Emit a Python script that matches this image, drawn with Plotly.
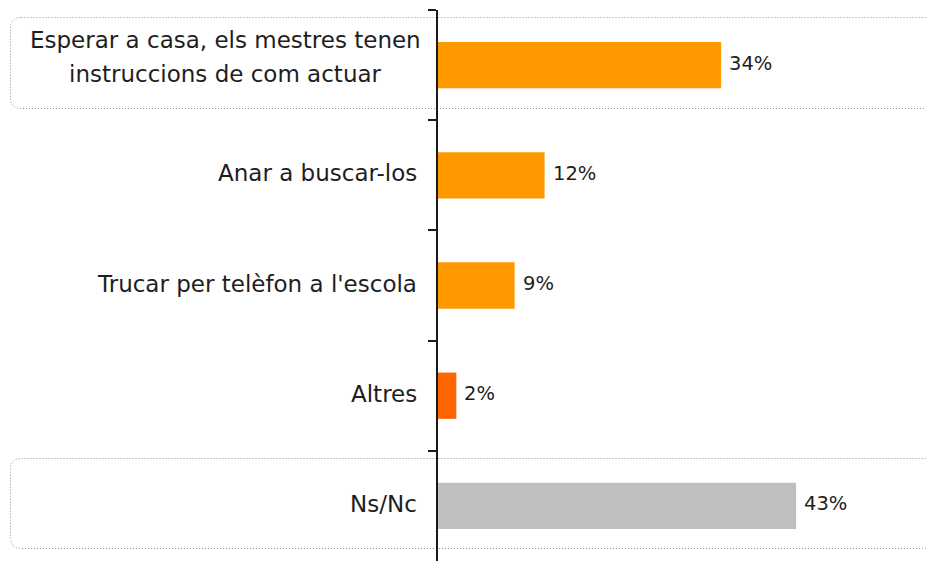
import plotly.graph_objects as go

categories = [
    "Esperar a casa, els mestres tenen<br>instruccions de com actuar",
    "Anar a buscar-los",
    "Trucar per telèfon a l'escola",
    "Altres",
    "Ns/Nc",
]
values = [34.0, 12.8, 9.2, 2.2, 43.0]
value_labels = ["34%", "12%", "9%", "2%", "43%"]
bar_colors = ["#FF9900", "#FF9900", "#FF9900", "#FF6600", "#BFBFBF"]

W, H = 926, 561
ML, MR, MT, MB = 438, 0, 10, 0
PW, PH = W - ML - MR, H - MT - MB
FONT = "'Century Gothic', 'URW Gothic', 'URW Gothic L', 'DejaVu Sans', sans-serif"
TXT = "#1e1e1e"

fig = go.Figure()
fig.add_trace(go.Bar(
    x=values, y=categories, orientation="h",
    marker=dict(color=bar_colors, line=dict(width=0)),
    width=0.42, hoverinfo="skip",
))

# value labels
for c, v, t in zip(categories, values, value_labels):
    fig.add_annotation(x=v, y=c, text=t, xref="x", yref="y", showarrow=False,
                       xanchor="left", xshift=6, yshift=2,
                       font=dict(family=FONT, size=19.5, color=TXT))

# category labels
for c in categories:
    lines = c.split("<br>")
    if len(lines) == 1:
        fig.add_annotation(x=0, y=c, xref="paper", yref="y", text=c, showarrow=False,
                           xanchor="right", xshift=-19, yshift=2,
                           font=dict(family=FONT, size=23, color=TXT))
    else:
        for ln, ys in zip(lines, [25, -9]):
            fig.add_annotation(x=0, y=c, xref="paper", yref="y", text=ln, showarrow=False,
                               xanchor="center", xshift=-213, yshift=ys,
                               font=dict(family=FONT, size=23, color=TXT))


def px2paper(px, py):
    return (px - ML) / PW, (H - MB - py) / PH


def rounded_box(x0, y0, x1, y1, r):
    def P(px, py):
        a, b = px2paper(px, py)
        return f"{a:.5f},{b:.5f}"
    return (f"M {P(x0 + r, y0)} L {P(x1 - r, y0)} Q {P(x1, y0)} {P(x1, y0 + r)} "
            f"L {P(x1, y1 - r)} Q {P(x1, y1)} {P(x1 - r, y1)} "
            f"L {P(x0 + r, y1)} Q {P(x0, y1)} {P(x0, y1 - r)} "
            f"L {P(x0, y0 + r)} Q {P(x0, y0)} {P(x0 + r, y0)} Z")


for (y0, y1) in [(17.5, 108.5), (458.5, 548.5)]:
    fig.add_shape(type="path", path=rounded_box(10.5, y0, 934, y1, 11),
                  xref="paper", yref="paper",
                  line=dict(color="#8C8C8C", width=1, dash="1px,2px"), layer="below")

fig.update_layout(
    width=W, height=H,
    margin=dict(l=ML, r=MR, t=MT, b=MB),
    paper_bgcolor="white", plot_bgcolor="white",
    showlegend=False,
    font=dict(family=FONT, size=21, color=TXT),
    xaxis=dict(range=[0, 58.6], visible=False, fixedrange=True),
    yaxis=dict(
        autorange="reversed", showticklabels=False,
        showline=True, linecolor="#1a1a1a", linewidth=2,
        ticks="outside", tickson="boundaries", ticklen=8, tickwidth=2,
        tickcolor="#1a1a1a", showgrid=False, zeroline=False, fixedrange=True,
    ),
)

fig.write_html("out.html", config={"displayModeBar": False},
               post_script="document.body.style.margin='0';document.body.style.overflow='hidden';")
